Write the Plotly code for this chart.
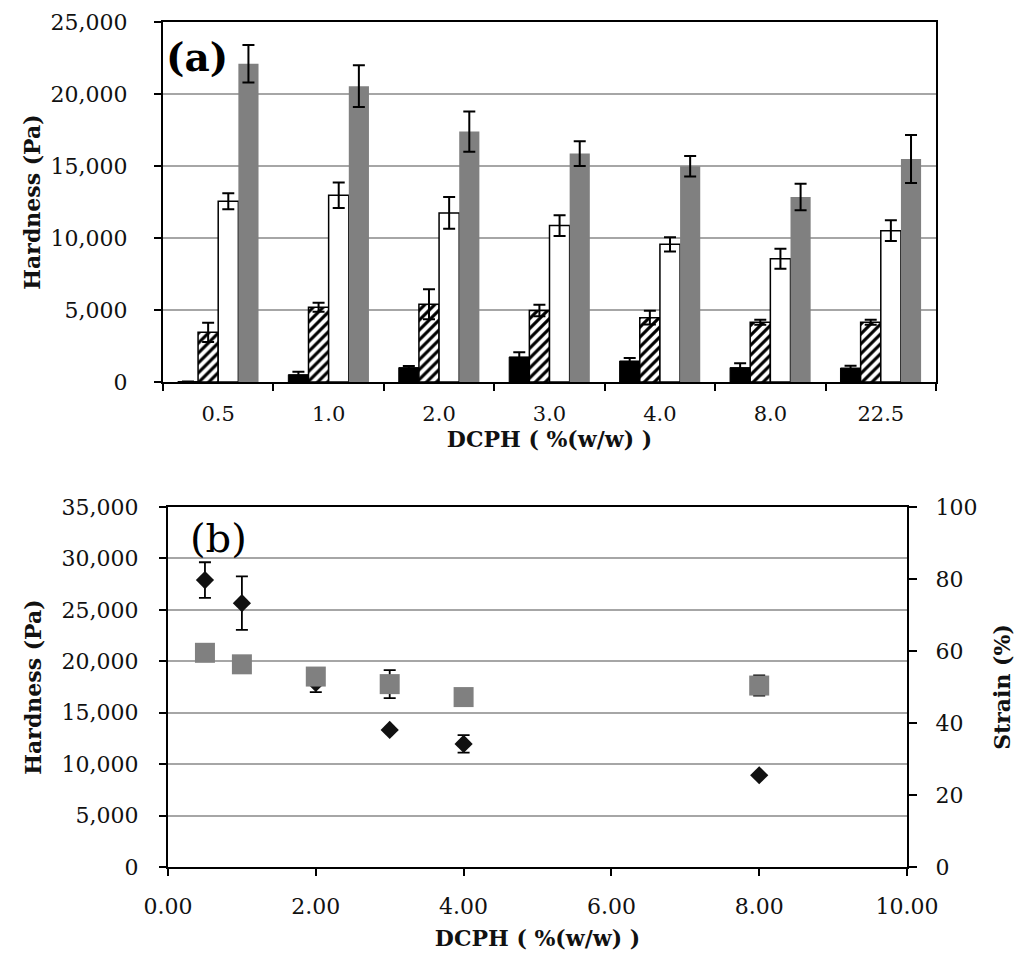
import plotly.graph_objects as go

# ---------------- data: panel (a) ----------------
categories = ["0.5", "1.0", "2.0", "3.0", "4.0", "8.0", "22.5"]
black_vals = [30, 510, 1000, 1740, 1460, 1000, 970]
black_err = [0, 200, 110, 330, 210, 300, 160]
hatch_vals = [3450, 5190, 5400, 4960, 4470, 4150, 4150]
hatch_err = [670, 320, 1040, 400, 470, 180, 180]
white_vals = [12550, 12970, 11740, 10860, 9560, 8560, 10510]
white_err = [550, 880, 1100, 720, 490, 700, 720]
gray_vals = [22100, 20540, 17390, 15860, 14980, 12850, 15490]
gray_err = [1300, 1450, 1400, 860, 710, 920, 1670]

# ---------------- data: panel (b) ----------------
dcph = [0.5, 1.0, 2.0, 3.0, 4.0, 8.0]
hardness = [27900, 25650, 17900, 13330, 11970, 8920]
hardness_err = [1730, 2600, 900, 0, 850, 0]
strain = [59.5, 56.3, 52.9, 50.8, 47.2, 50.4]
strain_err = [0, 0, 0, 3.9, 0, 2.8]

W, H = 1016, 958
FONT = "DejaVu Serif"
TXT = "#111111"


def px_x(p):
    return p / W


def px_y(p):
    return 1 - p / H


fig = go.Figure()

err_style = dict(type="data", color="black", thickness=2, width=6, visible=True)

fig.add_trace(go.Bar(
    x=categories, y=black_vals, xaxis="x", yaxis="y",
    marker=dict(color="black", line=dict(color="black", width=1)),
    error_y=dict(array=black_err, **err_style), name="s1"))
fig.add_trace(go.Bar(
    x=categories, y=hatch_vals, xaxis="x", yaxis="y",
    marker=dict(color="white",
                pattern=dict(shape="/", fgcolor="black", bgcolor="white",
                             size=7, solidity=0.45, fillmode="replace"),
                line=dict(color="black", width=1.5)),
    error_y=dict(array=hatch_err, **err_style), name="s2"))
fig.add_trace(go.Bar(
    x=categories, y=white_vals, xaxis="x", yaxis="y",
    marker=dict(color="white", line=dict(color="black", width=1.5)),
    error_y=dict(array=white_err, **err_style), name="s3"))
fig.add_trace(go.Bar(
    x=categories, y=gray_vals, xaxis="x", yaxis="y",
    marker=dict(color="#808080", line=dict(color="#808080", width=0)),
    error_y=dict(array=gray_err, **err_style), name="s4"))

# panel (b)
fig.add_trace(go.Scatter(
    x=dcph, y=hardness, xaxis="x2", yaxis="y2", mode="markers",
    marker=dict(symbol="diamond", size=14, color="#111111"),
    error_y=dict(type="data", array=hardness_err, color="black",
                 thickness=1.8, width=6),
    name="Hardness"))
fig.add_trace(go.Scatter(
    x=dcph, y=strain, xaxis="x2", yaxis="y3", mode="markers",
    marker=dict(symbol="square", size=20, color="#808080"),
    error_y=dict(type="data", array=strain_err, color="black",
                 thickness=1.8, width=6),
    name="Strain"))

tickfont = dict(family=FONT, size=22, color=TXT)
titlefont = dict(family=FONT, size=22, color=TXT, weight="bold")
gridc = "#a6a6a6"

fig.update_layout(
    width=W, height=H,
    margin=dict(l=0, r=0, t=0, b=0, autoexpand=False),
    paper_bgcolor="white", plot_bgcolor="white",
    showlegend=False,
    barmode="group", bargap=0.27, bargroupgap=0,
    xaxis=dict(
        domain=[px_x(163), px_x(936)], anchor="y", automargin=False,
        type="category", categoryorder="array", categoryarray=categories,
        showline=True, linecolor="black", linewidth=2, mirror=True,
        ticks="outside", tickson="boundaries", ticklen=7, tickwidth=2,
        tickcolor="black", showgrid=False,
        tickfont=dict(family=FONT, size=21, color=TXT), ticklabelstandoff=12,
        title=dict(text="DCPH ( %(w/w) )", font=titlefont, standoff=3),
    ),
    yaxis=dict(
        domain=[px_y(382), px_y(22)], anchor="x", automargin=False,
        range=[0, 25000], dtick=5000, tickformat=",",
        showline=True, linecolor="black", linewidth=2, mirror=True,
        ticks="outside", ticklen=7, tickwidth=2, tickcolor="black",
        showgrid=True, gridcolor=gridc, gridwidth=2, zeroline=False,
        tickfont=tickfont, ticklabelstandoff=22,
        title=dict(text="Hardness (Pa)", font=titlefont, standoff=4),
    ),
    xaxis2=dict(
        domain=[px_x(168), px_x(907)], anchor="y2", automargin=False,
        range=[0, 10], dtick=2, tickformat=".2f",
        showline=True, linecolor="black", linewidth=2, mirror=True,
        ticks="outside", ticklen=7, tickwidth=2, tickcolor="black",
        showgrid=False, zeroline=False,
        tickfont=tickfont, ticklabelstandoff=12,
        title=dict(text="DCPH ( %(w/w) )", font=titlefont, standoff=12),
    ),
    yaxis2=dict(
        domain=[px_y(867), px_y(507)], anchor="x2", automargin=False,
        range=[0, 35000], dtick=5000, tickformat=",",
        showline=True, linecolor="black", linewidth=2, mirror=False,
        ticks="outside", ticklen=7, tickwidth=2, tickcolor="black",
        showgrid=True, gridcolor=gridc, gridwidth=2, zeroline=False,
        tickfont=tickfont, ticklabelstandoff=16,
        title=dict(text="Hardness (Pa)", font=titlefont, standoff=14),
    ),
    yaxis3=dict(
        overlaying="y2", side="right", anchor="x2", automargin=False,
        range=[0, 100], dtick=20,
        showline=True, linecolor="black", linewidth=2,
        ticks="outside", ticklen=8, tickwidth=2, tickcolor="black",
        showgrid=False, zeroline=False,
        tickfont=tickfont, ticklabelstandoff=14,
        title=dict(text="Strain (%)", font=titlefont, standoff=18),
    ),
    annotations=[
        dict(text="(a)", x=px_x(197), y=px_y(57), xref="paper", yref="paper",
             showarrow=False, xanchor="center", yanchor="middle",
             font=dict(family=FONT, size=39, color="black", weight="bold")),
        dict(text="(b)", x=px_x(218), y=px_y(538), xref="paper", yref="paper",
             showarrow=False, xanchor="center", yanchor="middle",
             font=dict(family=FONT, size=40, color="black")),
    ],
)

fig.write_html("out.html")
